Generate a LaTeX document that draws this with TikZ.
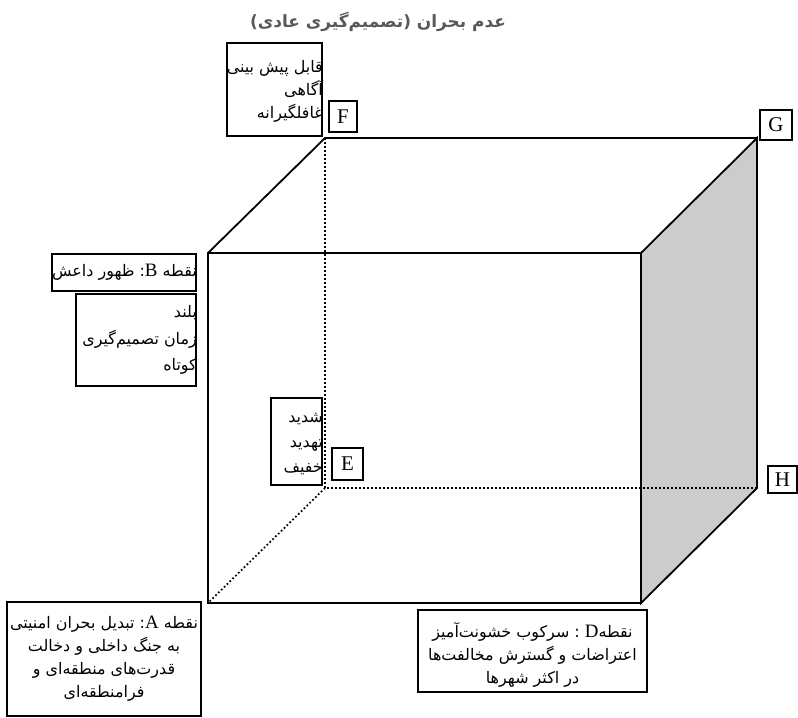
\documentclass[tikz,border=0pt]{standalone}
\usepackage{fontspec}
\setmainfont{Liberation Serif}
\newfontfamily\fa[Script=Arabic]{DejaVu Sans}
\newfontfamily\latinfont{Liberation Serif}
\TeXXeTstate=1
\definecolor{facegray}{HTML}{CCCCCC}
\definecolor{titlegray}{HTML}{595959}
\newcommand\myR[1]{\beginR#1\endR}
\newcommand\lat[1]{\beginL{\latinfont\fontsize{19}{19}\selectfont #1}\endL}
\tikzset{
  cubeline/.style={line width=1.8bp, line join=miter},
  hidden/.style={line width=1.7bp, dash pattern=on 1.7bp off 2.3bp},
  framebox/.style={draw, line width=1.7bp, inner sep=0pt},
  letbox/.style={draw, line width=1.6bp, inner sep=0pt, font=\latinfont\fontsize{21}{21}\selectfont},
  fatext/.style={inner sep=0pt, font=\fa\fontsize{16}{#1}\selectfont},
  fatext/.default=23.5
}
\begin{document}
\begin{tikzpicture}[x=1bp,y=-1bp]
\useasboundingbox (0,0) rectangle (798,718);
% cube corners
\coordinate (FTL) at (208,253);
\coordinate (FTR) at (641,253);
\coordinate (FBR) at (641,603);
\coordinate (FBL) at (208,603);
\coordinate (BTL) at (325,138);
\coordinate (BTR) at (757,138);
\coordinate (BBR) at (757,488);
\coordinate (BBL) at (325,488);
% right face
\filldraw[cubeline, fill=facegray] (FTR) -- (BTR) -- (BBR) -- (FBR) -- cycle;
% hidden edges
\draw[hidden] (BTL) -- (BBL) -- (BBR);
\draw[hidden] (BBL) -- (FBL);
% front face and top
\draw[cubeline] (FTL) rectangle (FBR);
\draw[cubeline] (FTL) -- (BTL) -- (BTR);
% title
\node[inner sep=0pt, text=titlegray, font=\fa\bfseries\fontsize{17}{20}\selectfont] (title) at (378,22)
  {\myR{عدم بحران (تصمیم‌گیری عادی)}};
% letter boxes
\node[letbox, minimum width=28bp, minimum height=31bp] (F) at (343,116.5) {F};
\node[letbox, minimum width=32bp, minimum height=30bp] (G) at (776,125) {G};
\node[letbox, minimum width=29bp, minimum height=27bp] (H) at (782.5,479.5) {H};
\node[letbox, minimum width=31bp, minimum height=32bp] (E) at (347.5,464) {E};
% text frames
\node[framebox, minimum width=95bp, minimum height=93bp] (ftbox) at (274.5,89.5) {};
\node[framebox, minimum width=51bp, minimum height=87bp] (etbox) at (296.5,441.5) {};
\node[framebox, minimum width=144bp, minimum height=37bp] (bbox) at (124,272.5) {};
\node[framebox, minimum width=120bp, minimum height=92bp] (btbox) at (136,340) {};
\node[framebox, minimum width=194bp, minimum height=114bp] (abox) at (104,659) {};
\node[framebox, minimum width=229bp, minimum height=82bp] (dbox) at (532.5,651) {};
% texts
\node[fatext=23, align=right, anchor=east] (fttext) at (323,91.5)
  {\myR{قابل پیش بینی}\\\myR{آگاهی}\\\myR{غافلگیرانه}};
\node[fatext=25, align=right, anchor=east] (ettext) at (323,444)
  {\myR{شدید}\\\myR{تهدید}\\\myR{خفیف}};
\node[fatext, anchor=east] (btext) at (197,272.5)
  {\myR{نقطه \lat{B}: ظهور داعش}};
\node[fatext=26.5, align=right, anchor=east] (bttext) at (197,340)
  {\myR{بلند}\\\myR{زمان تصمیم‌گیری}\\\myR{کوتاه}};
\node[fatext=23, align=center] (atext) at (104,659)
  {\myR{نقطه \lat{A}: تبدیل بحران امنیتی}\\\myR{به جنگ داخلی و دخالت}\\\myR{قدرت‌های منطقه‌ای و}\\\myR{فرامنطقه‌ای}};
\node[fatext=23.5, align=center] (dtext) at (532.5,655)
  {\myR{نقطه\lat{D} : سرکوب خشونت‌آمیز}\\\myR{اعتراضات و گسترش مخالفت‌ها}\\\myR{در اکثر شهرها}};
\end{tikzpicture}
\end{document}
